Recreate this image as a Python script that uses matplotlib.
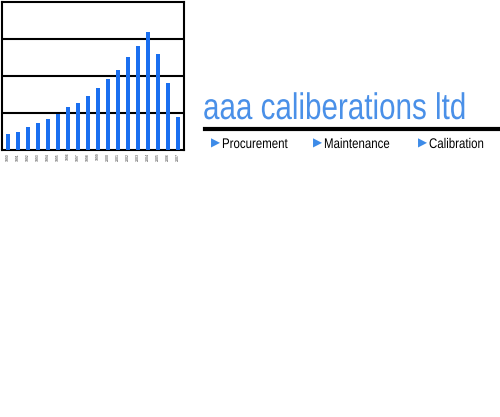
import matplotlib
matplotlib.use("Agg")
from matplotlib import pyplot as plt
from matplotlib.textpath import TextPath
from matplotlib.font_manager import FontProperties
from matplotlib.patches import PathPatch
from matplotlib.transforms import Affine2D, IdentityTransform

# bar chart data
labels = [str(y) for y in range(1990, 2008)]
values = [0.43, 0.49, 0.62, 0.73, 0.84, 0.97, 1.16, 1.27, 1.46, 1.68,
          1.92, 2.16, 2.51, 2.81, 3.19, 2.59, 1.81, 0.89]
title = "aaa caliberations ltd"
menu = ["Procurement", "Maintenance", "Calibration"]
menu_x = [211, 313, 418]

W, H = 500, 417
fig = plt.figure(figsize=(W / 100, H / 100), dpi=100)
plt.rcParams['font.family'] = ['Liberation Sans', 'DejaVu Sans']
fp = FontProperties(family='Liberation Sans')

ax = fig.add_axes([2 / W, 1 - 150 / H, 182 / W, 148 / H])
x = list(range(len(values)))
ax.bar(x, values, width=0.42, color='#1a6ff0', zorder=3)
ax.set_xlim(-0.6, len(values) - 0.4)
ax.set_ylim(0, 4)
ax.set_yticks([1, 2, 3])
ax.yaxis.grid(True, color='black', linewidth=1.5, zorder=1)
ax.tick_params(axis='y', left=False, labelleft=False)
ax.tick_params(axis='x', length=0, pad=2)
ax.set_xticks(x)
ax.set_xticklabels(labels, rotation=90, fontsize=2.5, color='#333333')
for s in ax.spines.values():
    s.set_linewidth(1.5)


def narrow_text(s, x0, ybase, size_px, sx, color):
    # condensed text drawn as a path, pixel coords from top-left
    tp = TextPath((0, 0), s, size=size_px, prop=fp)
    tr = Affine2D().scale(sx, 1).translate(x0, H - ybase)
    fig.add_artist(PathPatch(tr.transform_path(tp), transform=IdentityTransform(),
                             facecolor=color, edgecolor='none'))


narrow_text(title, 203, 119, 37, 0.80, '#4a90e8')
fig.add_artist(plt.Line2D([205 / W, 1.0], [1 - 129 / H] * 2,
                          color='black', linewidth=3))
for name, mx in zip(menu, menu_x):
    fig.text(mx / W, 1 - 143 / H, '\u25B6', fontsize=8.5, color='#3d8be8',
             va='center', ha='left', family=['DejaVu Sans'])
    narrow_text(name, mx + 11, 148, 14, 0.82, 'black')

fig.savefig('out.png', dpi=100)
